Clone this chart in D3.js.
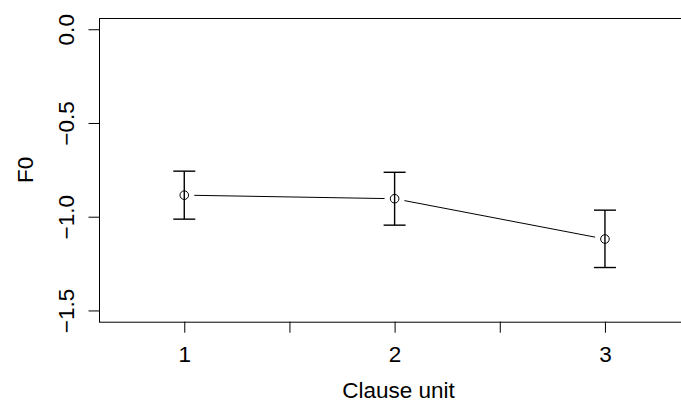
<!DOCTYPE html>
<html><head><meta charset="utf-8">
<script src="https://cdn.jsdelivr.net/npm/d3@7"></script>
<style>body{margin:0;background:#fff;} svg{display:block;} text{font-family:"Liberation Sans",Arial,Helvetica,sans-serif;}</style>
</head><body>
<svg id="c" width="681" height="403"></svg>
<script>
const units = [1, 2, 3];
const means = [-0.885, -0.904, -1.119];
const lower = [-1.013, -1.045, -1.271];
const upper = [-0.757, -0.763, -0.965];
const xTicks = [1, 1.5, 2, 2.5, 3];
const xTickLabels = ["1", "", "2", "", "3"];
const yTicks = [0, -0.5, -1, -1.5];
const yTickLabels = ["0.0", "\u22120.5", "\u22121.0", "\u22121.5"];

const svg = d3.select("#c");
const L = 99.5, R = 697.5, T = 18, B = 321.7;
const x = d3.scaleLinear().domain([0.597, 3.44]).range([L, R]);
const y = d3.scaleLinear().domain([-1.56, 0.06]).range([B, T]);
const fs = 22.5;

// box
svg.append("rect").attr("x", L).attr("y", T + 0.5).attr("width", R - L).attr("height", B - T)
  .attr("fill", "none").attr("stroke", "#000").attr("stroke-width", 1);

// x axis
const xAxis = d3.axisBottom(x).tickValues(xTicks).tickSize(11).tickPadding(0)
  .tickFormat((d, i) => xTickLabels[i]);
const gx = svg.append("g").attr("transform", `translate(0,${B})`).call(xAxis);
gx.select(".domain").remove();
gx.selectAll("line").attr("stroke", "#000");
gx.selectAll("text").attr("font-size", fs).attr("fill", "#000").attr("dy", null).attr("y", 40.5);

// y axis
const yAxis = d3.axisLeft(y).tickValues(yTicks).tickSize(11).tickPadding(0)
  .tickFormat((d, i) => yTickLabels[i]);
const gy = svg.append("g").attr("transform", `translate(${L},0)`).call(yAxis);
gy.select(".domain").remove();
gy.selectAll("line").attr("stroke", "#000");
gy.selectAll("text").attr("font-size", fs).attr("fill", "#000")
  .attr("x", null).attr("dy", null).attr("text-anchor", "middle")
  .attr("transform", "translate(-25.5,0) rotate(-90)");

// axis titles
svg.append("text").attr("x", (L + R) / 2).attr("y", 398).attr("text-anchor", "middle")
  .attr("font-size", fs).text("Clause unit");
svg.append("text").attr("transform", `translate(32.5,${(T + B) / 2}) rotate(-90)`)
  .attr("text-anchor", "middle").attr("font-size", fs).text("F0");

// connecting line with gaps (type = "b")
const gap = 10;
for (let i = 0; i < units.length - 1; i++) {
  const x1 = x(units[i]), y1 = y(means[i]), x2 = x(units[i + 1]), y2 = y(means[i + 1]);
  const dx = x2 - x1, dy = y2 - y1, len = Math.hypot(dx, dy);
  const ux = dx / len, uy = dy / len;
  svg.append("line").attr("x1", x1 + ux * gap).attr("y1", y1 + uy * gap)
    .attr("x2", x2 - ux * gap).attr("y2", y2 - uy * gap)
    .attr("stroke", "#000").attr("stroke-width", 1);
}

// error bars
const cap = 11;
const eb = svg.append("g").attr("stroke", "#000").attr("stroke-width", 1.4);
units.forEach((u, i) => {
  eb.append("line").attr("x1", x(u)).attr("x2", x(u)).attr("y1", y(lower[i])).attr("y2", y(upper[i]));
  eb.append("line").attr("x1", x(u) - cap).attr("x2", x(u) + cap).attr("y1", y(lower[i])).attr("y2", y(lower[i]));
  eb.append("line").attr("x1", x(u) - cap).attr("x2", x(u) + cap).attr("y1", y(upper[i])).attr("y2", y(upper[i]));
});

// points (open circles, pch = 1)
svg.append("g").selectAll("circle").data(units).join("circle")
  .attr("cx", d => x(d)).attr("cy", (d, i) => y(means[i])).attr("r", 4.3)
  .attr("fill", "none").attr("stroke", "#000").attr("stroke-width", 1);
</script>
</body></html>
